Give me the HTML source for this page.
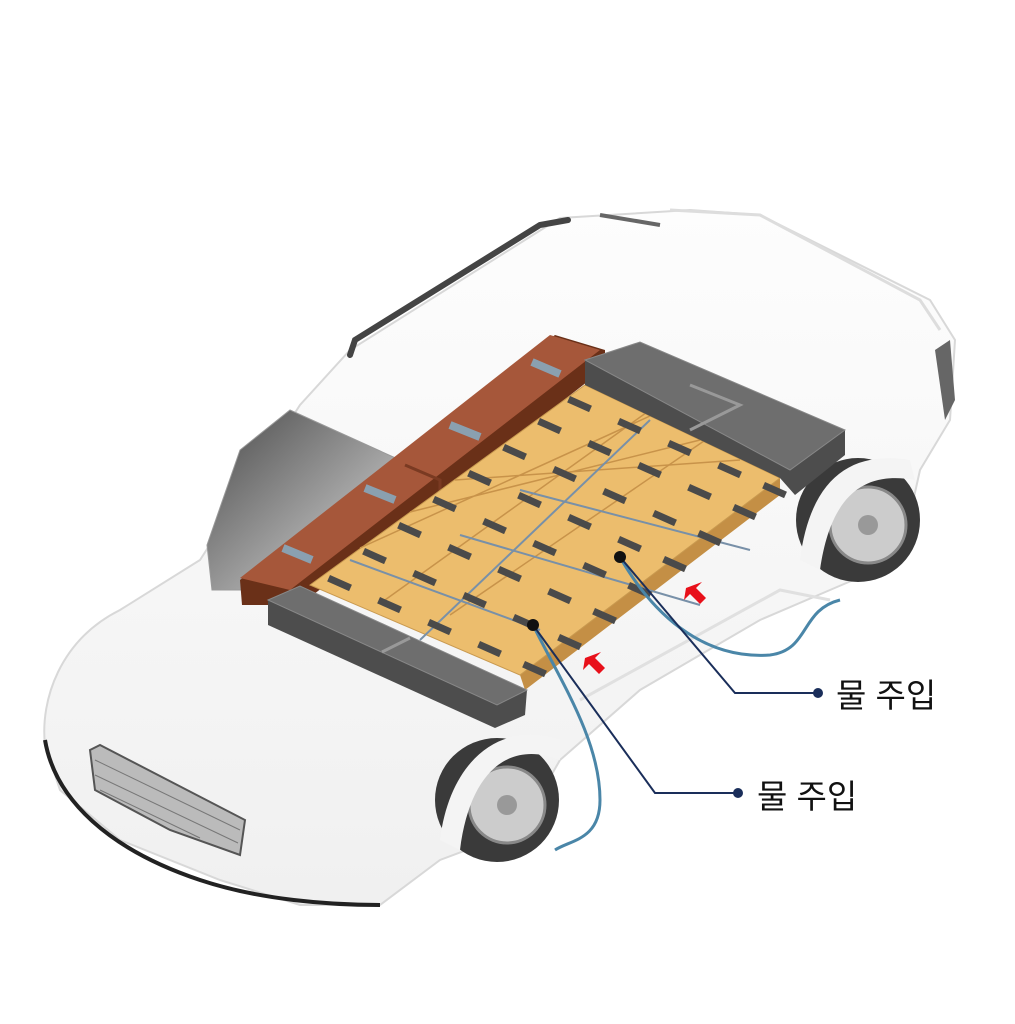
<!DOCTYPE html>
<html><head><meta charset="utf-8"><style>
html,body{margin:0;padding:0;background:#fff;width:1015px;height:1024px;overflow:hidden}
svg{display:block}
text{font-family:"Liberation Sans","Noto Sans CJK KR",sans-serif}
</style></head><body>
<svg width="1015" height="1024" viewBox="0 0 1015 1024" xmlns="http://www.w3.org/2000/svg">
<defs>
<linearGradient id="ws" x1="0" y1="0" x2="1" y2="1"><stop offset="0" stop-color="#4a4a4a"/><stop offset="1" stop-color="#e0e0e0"/></linearGradient>
<linearGradient id="body" x1="0" y1="0" x2="0" y2="1"><stop offset="0" stop-color="#fdfdfd"/><stop offset="1" stop-color="#f0f0f0"/></linearGradient>
</defs>
<path d="M45,745 C40,700 60,640 120,610 L200,560 L300,405 L350,350 L560,218 L690,210 L760,215 L930,300 L955,340 L950,420 L920,470 L900,560 L830,590 L760,620 L640,690 L560,760 L520,830 L440,860 L380,905 L300,905 L220,880 L120,840 L60,790 Z" fill="url(#body)" stroke="#d8d8d8" stroke-width="2"/>
<path d="M45,740 C55,800 110,850 200,880 C260,900 330,905 380,905" fill="none" stroke="#222" stroke-width="4"/>
<path d="M350,355 L355,340 L540,225 L568,220" fill="none" stroke="#444" stroke-width="6" stroke-linecap="round"/>
<path d="M600,215 L660,225" fill="none" stroke="#666" stroke-width="4"/>
<path d="M670,210 L760,215 L920,300 L940,330" fill="none" stroke="#ddd" stroke-width="3"/>
<path d="M935,350 L950,340 L955,400 L945,420 Z" fill="#666"/>
<path d="M207,545 L240,450 L290,410 L400,460 L250,590 L212,590 Z" fill="url(#ws)" stroke="#999"/>
<path d="M90,750 L100,745 L245,820 L240,855 L170,830 L95,790 Z" fill="#bbb" stroke="#555" stroke-width="2"/>
<path d="M95,760 L240,830 M95,775 L238,843 M100,790 L200,838" stroke="#777" stroke-width="1"/>
<circle cx="497" cy="800" r="62" fill="#3a3a3a"/>
<circle cx="507" cy="805" r="38" fill="#ccc" stroke="#888" stroke-width="3"/>
<circle cx="507" cy="805" r="10" fill="#999"/>
<circle cx="858" cy="520" r="62" fill="#3a3a3a"/>
<circle cx="868" cy="525" r="38" fill="#ccc" stroke="#888" stroke-width="3"/>
<circle cx="868" cy="525" r="10" fill="#999"/>
<path d="M440,840 C450,760 500,720 560,740 L560,760 C510,740 470,770 460,850 Z" fill="#f4f4f4"/>
<path d="M800,560 C810,480 850,450 910,460 L915,480 C860,470 830,500 820,570 Z" fill="#f4f4f4"/>
<path d="M580,700 L780,590 L830,600" fill="none" stroke="#e0e0e0" stroke-width="3"/>
<!-- brown modules -->
<path d="M240,580 L555,335 L605,350 L605,368 L300,605 L242,605 Z" fill="#6a3018"/>
<path d="M240,578 L550,335 L600,350 L290,590 Z" fill="#a6573a"/>
<path d="M405,465 L440,480 L440,500" fill="none" stroke="#7a3a22" stroke-width="3"/>
<path d="M283,548 L312,560 M365,488 L395,500 M450,425 L480,437 M532,362 L560,374" stroke="#8aa0b0" stroke-width="8"/>
<path d="M310,585 L585,385 L780,478 L780,495 L525,690 L520,675 Z" fill="#c48f45"/>
<path d="M310,585 L585,385 L780,478 L520,675 Z" fill="#ecbd6d" stroke="#c99a50"/>
<g stroke="#c8934a" stroke-width="1.5">
<path d="M360,548 L650,416 M410,512 L700,440 M455,480 L740,460"/>
<path d="M450,615 L720,430 M385,600 L650,410"/>
</g>
<g stroke="#7890a8" stroke-width="2" fill="none">
<path d="M420,640 L650,420"/><path d="M350,560 L540,630"/><path d="M460,535 L700,605"/><path d="M520,490 L750,550"/>
</g>
<g fill="#4a4a4a">
<g id="r1">
<rect width="24" height="7" transform="translate(330,575) rotate(24)"/>
<rect width="24" height="7" transform="translate(365,548) rotate(24)"/>
<rect width="24" height="7" transform="translate(400,522) rotate(24)"/>
<rect width="24" height="7" transform="translate(435,496) rotate(24)"/>
<rect width="24" height="7" transform="translate(470,470) rotate(24)"/>
<rect width="24" height="7" transform="translate(505,444) rotate(24)"/>
<rect width="24" height="7" transform="translate(540,418) rotate(24)"/>
<rect width="24" height="7" transform="translate(570,396) rotate(24)"/>
</g>
<use href="#r1" transform="translate(50,22)"/>
<use href="#r1" transform="translate(100,44)"/>
<use href="#r1" transform="translate(150,66)"/>
<use href="#r1" transform="translate(195,86)"/>
</g>
<path d="M268,600 L300,586 L527,690 L525,715 L495,728 L268,625 Z" fill="#4d4d4d"/>
<path d="M268,600 L300,586 L527,690 L497,705 Z" fill="#6e6e6e" stroke="#888"/>
<path d="M382,652 L410,638" stroke="#999" stroke-width="3"/>
<path d="M585,360 L640,342 L845,430 L845,455 L795,495 L780,478 L585,385 Z" fill="#4d4d4d"/>
<path d="M585,360 L640,342 L845,430 L790,470 Z" fill="#6e6e6e" stroke="#888"/>
<path d="M690,385 L740,405 L690,430" fill="none" stroke="#999" stroke-width="3"/>
<path d="M620,557 C650,610 700,660 770,655 C810,650 800,610 840,600" fill="none" stroke="#4a86a8" stroke-width="3"/>
<path d="M533,625 C560,680 600,740 600,800 C600,840 570,840 555,850" fill="none" stroke="#4a86a8" stroke-width="3"/>
<path d="M620,557 L735,693 L818,693" fill="none" stroke="#1a2e5a" stroke-width="2"/>
<path d="M533,625 L655,793 L738,793" fill="none" stroke="#1a2e5a" stroke-width="2"/>
<circle cx="620" cy="557" r="6" fill="#111"/><circle cx="533" cy="625" r="6" fill="#111"/>
<circle cx="818" cy="693" r="5" fill="#1a2e5a"/><circle cx="738" cy="793" r="5" fill="#1a2e5a"/>
<text x="836" y="707" font-size="33" fill="#111">물 주입</text>
<text x="757" y="808" font-size="33" fill="#111">물 주입</text>
<g fill="#e8101a">
<path d="M0,0 L16,-6 L10,0 L20,10 L14,16 L4,6 L-2,12 Z" transform="translate(686,588)"/>
<path d="M0,0 L16,-6 L10,0 L20,10 L14,16 L4,6 L-2,12 Z" transform="translate(585,658)"/>
</g>
</svg>
</body></html>
